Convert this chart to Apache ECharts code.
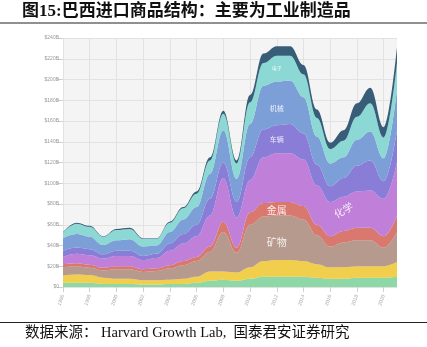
<!DOCTYPE html>
<html>
<head>
<meta charset="utf-8">
<script src="https://cdn.jsdelivr.net/npm/echarts@6/dist/echarts.min.js"></script>
<style>html,body{margin:0;padding:0;background:#fff;}#c{width:427px;height:347px;}</style>
</head>
<body>
<div id="c"></div>
<script>
const years = [1996,1997,1998,1999,2000,2001,2002,2003,2004,2005,2006,2007,2008,2009,2010,2011,2012,2013,2014,2015,2016,2017,2018,2019,2020,2021];
const yTicks = [0,20,40,60,80,100,120,140,160,180,200,220,240];
// US$ billions per sector, bottom to top
const textiles    = [4,4,4,3,3,3,2.5,2.5,3,3,4,6,7,6,8,10,10,10,10,9,8,8,9,9,9,10];
const agriculture = [7,8,7.5,6,5,5,4,4,4,5,6,9,8,8,11,15,16,16,15,13,11,11,11,11,11,14];
const minerals    = [8,8,7,7,9,9,8,9,11,13,15,19,38,19,41,43,43,43,40,28,20,24,25,25,18,29];
const metals      = [3,3,3,2.5,3,3,2.5,2.5,3,4,4,5,10,5,12,13,13,13,13,10,10,11,12,12,11,16];
const chemicals   = [7,9,9,9,10,10,9,10,14,17,20,30,42,29,31,44,47,47,45,38,33,33,35,36,36,51];
const vehicles    = [6,6,6,4,5,5,4,4,7,9,11,16,15,15,22,27,27,28,25,20,15,18,25,29,17,31];
const machinery   = [12,13,12,9,10,11,9,8,11,14,17,24,31,22,32,42,42,42,35,27,22,20,25,28,22,39];
const electronics = [5.5,10,9.5,8,10,10,7.5,6.5,9,11,13,13,16,15,21,22,25,24,22,18,14,16,22,27,20,26];
const other       = [0.5,1,1,0.5,1,1,0.5,0.5,1,1,2,3,3,3,7,9,9,9,9,8,6,10,13,15,10,15];

const seriesNames  = ['纺织','农业','矿物','金属','化学','车辆','机械','电子','其他'];
const seriesData   = [textiles, agriculture, minerals, metals, chemicals, vehicles, machinery, electronics, other];
const seriesColors = ['#8ed8a8','#f1cf4c','#b79a8e','#d9786e','#c07fd8','#8a7dd8','#7b9fd6','#8bd8d4','#375d78'];

// in-chart sector labels
const labelTexts  = ['电子','机械','车辆','化学','金属','矿物'];
const labelYears  = [2012.3,2012.3,2012.3,2017.3,2012.4,2012.4];
const labelValues = [211,172,142,74,74,43];
const labelSizes  = [5,7,7,10,10,10];
const labelRot    = [0,0,0,30,0,0];

const chart = echarts.init(document.getElementById('c'));
const series = seriesData.map((d, i) => ({
  name: seriesNames[i], type: 'line', stack: 'total', data: d,
  smooth: 0.4, smoothMonotone: 'x', showSymbol: false, symbol: 'none',
  lineStyle: { width: 0 }, areaStyle: { color: seriesColors[i], opacity: 1 },
  itemStyle: { color: seriesColors[i] }, z: 2
}));

chart.setOption({
  animation: false,
  backgroundColor: '#fff',
  grid: { left: 63, right: 30, top: 38, bottom: 60, show: true, backgroundColor: '#f4f4f4', borderWidth: 0 },
  xAxis: {
    type: 'category', data: years.map(String), boundaryGap: false,
    axisLine: { show: false },
    axisTick: { show: true, interval: 1, length: 5, lineStyle: { color: '#d0d0d0' } },
    axisLabel: { interval: 1, rotate: 70, fontSize: 5, color: '#aaa', margin: 8 },
    splitLine: { show: true, interval: 1, lineStyle: { color: '#e2e2e2', width: 1 } }
  },
  yAxis: {
    type: 'value', min: 0, max: 240, interval: 20,
    axisLine: { show: false },
    axisTick: { show: true, length: 6, lineStyle: { color: '#d0d0d0' } },
    axisLabel: { fontSize: 5, color: '#999', margin: 4, formatter: v => v === 0 ? '$0' : '$' + v + 'B' },
    splitLine: { show: true, lineStyle: { color: '#e2e2e2', width: 1 } }
  },
  series: series
});

const y0 = years[0];
const labelGraphics = labelTexts.map((t, i) => {
  const p = chart.convertToPixel({ xAxisIndex: 0, yAxisIndex: 0 }, [labelYears[i] - y0, labelValues[i]]);
  return {
    type: 'text', x: p[0], y: p[1], rotation: labelRot[i] * Math.PI / 180, z: 100,
    style: { text: t, fontSize: labelSizes[i], fill: 'rgba(255,255,255,0.85)', align: 'center', verticalAlign: 'middle', fontFamily: '"Noto Sans CJK SC",sans-serif' }
  };
});

chart.setOption({
  graphic: [
    { type: 'text', left: 22, top: 3, z: 100, style: { text: '图15:巴西进口商品结构：主要为工业制造品', fontSize: 17, fontWeight: 'bold', fill: '#111', fontFamily: '"Liberation Serif","Noto Sans CJK SC",serif' } },
    { type: 'line', z: 100, shape: { x1: 0, y1: 23, x2: 427, y2: 23 }, style: { stroke: '#222', lineWidth: 1.2 } },
    { type: 'line', z: 100, shape: { x1: 0, y1: 322.5, x2: 427, y2: 322.5 }, style: { stroke: '#222', lineWidth: 1.2 } },
    { type: 'text', left: 25, top: 326, z: 100, style: { text: '数据来源： Harvard Growth Lab,  国泰君安证券研究', fontSize: 14.5, fill: '#111', fontFamily: '"Liberation Serif","Noto Sans CJK SC",serif' } }
  ].concat(labelGraphics)
});
</script>
</body>
</html>
